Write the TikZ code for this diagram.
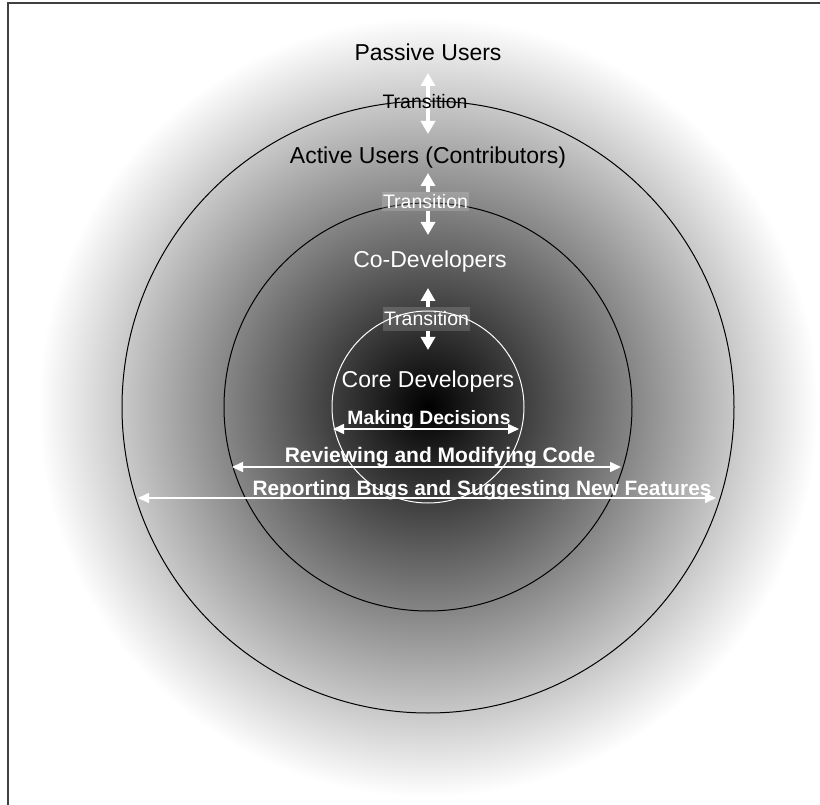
\documentclass[tikz,border=0pt]{standalone}
\usepackage{fontspec}
\setmainfont{Liberation Sans}
\usetikzlibrary{arrows.meta}
% dark core fading to white at the rim of the shaded disc
\pgfdeclareradialshading{halo}{\pgfpoint{0bp}{0bp}}{color(0bp)=(black); color(25bp)=(white); color(50bp)=(white)}
\begin{document}
\begin{tikzpicture}[x=1pt,y=-1pt,
  ring/.style={line width=1pt},
  rolelbl/.style={font=\fontsize{23}{27}\selectfont, anchor=base, inner sep=0pt},
  translbl/.style={font=\fontsize{19.5}{23}\selectfont, inner sep=0pt},
  transbox/.style={translbl, text=white, fill=white, fill opacity=0.16, text opacity=1,
    minimum width=87pt},
  moveto/.style={draw=white, line width=4pt, -{Triangle[length=13pt,width=14pt]}},
  movepair/.style={draw=white, line width=4pt, {Triangle[length=13pt,width=14pt]}-{Triangle[length=13pt,width=14pt]}},
  tasklbl/.style={font=\bfseries\fontsize{#1}{24}\selectfont, text=white, anchor=base, inner sep=0pt},
  tasklbl/.default=20,
  span/.style={draw=white, line width=1.6pt, {Triangle[length=11pt,width=10pt]}-{Triangle[length=11pt,width=10pt]}}
]
\useasboundingbox (0,0) rectangle (820,805);

% page frame (top and left edges)
\draw[black!75, line width=1.5pt] (8,805) -- (8,3) -- (820,3);

% shaded community disc and its rings
\coordinate (hub) at (428,407);
\shade[shading=halo] (hub) circle (390pt);
\draw[ring, black] (hub) circle (306pt);
\draw[ring, black] (hub) circle (204pt);
\draw[ring, white] (hub) circle (96pt);

% roles
\node[rolelbl] (passive) at (428,61) {Passive Users};
\node[rolelbl] (active) at (428,164) {Active Users (Contributors)};
\node[rolelbl, text=white] (codev) at (430,268) {Co-Developers};
\node[rolelbl, text=white] (core) at (428,387) {Core Developers};

% transition between passive and active users
\coordinate (t1up) at (428,73);
\coordinate (t1dn) at (428,134);
\draw[movepair] (t1dn) -- (t1up);
\node[translbl, anchor=base] (t1) at (425,109) {Transition};

% transition between active users and co-developers
\node[transbox, minimum height=19pt] (t2) at (425.5,201.5) {Transition};
\coordinate (t2up) at (428,173);
\coordinate (t2dn) at (428,235);
\draw[moveto] (t2.north -| t2up) -- (t2up);
\draw[moveto] (t2.south -| t2dn) -- (t2dn);

% transition between co-developers and core developers
\node[transbox, minimum height=24pt] (t3) at (426.5,319) {Transition};
\coordinate (t3up) at (428,288);
\coordinate (t3dn) at (428,350);
\draw[moveto] (t3.north -| t3up) -- (t3up);
\draw[moveto] (t3.south -| t3dn) -- (t3dn);

% activities spanning each ring
\node[tasklbl=19.3] (decide) at (429,424) {Making Decisions};
\coordinate (d1) at (333,429);
\coordinate (d2) at (519,429);
\draw[span] (d1) -- (d2);

\node[tasklbl=21] (review) at (440,462) {Reviewing and Modifying Code};
\coordinate (r1) at (232,467);
\coordinate (r2) at (621,467);
\draw[span] (r1) -- (r2);

\node[tasklbl=20.8] (report) at (482,495) {Reporting Bugs and Suggesting New Features};
\coordinate (b1) at (138,498);
\coordinate (b2) at (716,498);
\draw[span] (b1) -- (b2);
\end{tikzpicture}
\end{document}
